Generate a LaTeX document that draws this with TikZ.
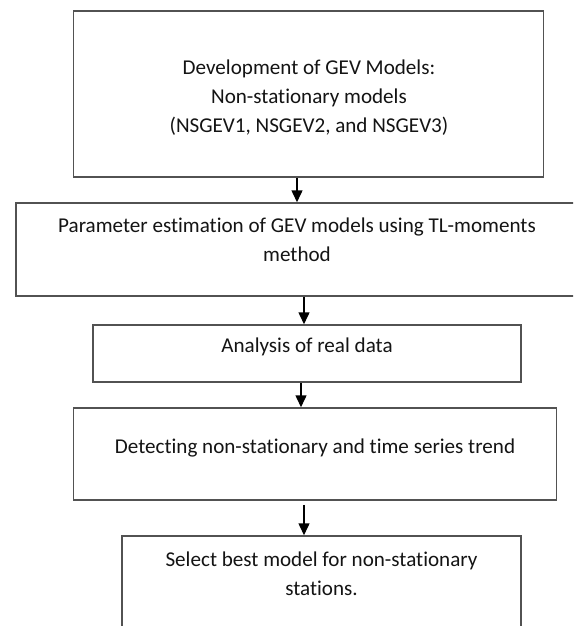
\documentclass[tikz,border=0pt]{standalone}
\usepackage{fontspec}
\setmainfont{Carlito}[Ligatures=NoCommon]
\usetikzlibrary{arrows.meta}
\begin{document}
\begin{tikzpicture}[x=1pt,y=-1pt,
  boxstyle/.style={draw=black!68, line width=1.5pt, rectangle, inner sep=0pt},
  boxtext/.style={text=black!92, align=center, inner sep=0pt, font=\fontsize{21.1}{29}\selectfont},
  arr/.style={black, line width=1.5pt, -{Triangle[width=11pt,length=12pt]}}]
\clip (0,0) rectangle (573,626);
\fill[white] (0,0) rectangle (573,626);
% boxes
\node[boxstyle, minimum width=470pt, minimum height=166pt] (b1) at (308.5,94) {};
\node[boxstyle, minimum width=562pt, minimum height=93pt] (b2) at (297,249.5) {};
\node[boxstyle, minimum width=428pt, minimum height=57pt] (b3) at (307,353.5) {};
\node[boxstyle, minimum width=483pt, minimum height=92pt] (b4) at (315,454) {};
\node[boxstyle, minimum width=399pt, minimum height=104pt] (b5) at (321.5,588) {};
% texts
\node[boxtext] (t1) at (309,98) {Development of GEV Models:\\Non-stationary models\\(NSGEV1, NSGEV2, and NSGEV3)};
\node[boxtext] (t2) at (297,240) {Parameter estimation of GEV models using TL-moments\\method};
\node[boxtext] (t3) at (307,347) {Analysis of real data};
\node[boxtext] (t4) at (315,448) {Detecting non-stationary and time series trend};
\node[boxtext] (t5) at (321.5,574) {Select best model for non-stationary\\stations.};
% arrow columns
\coordinate (ax1) at (297,0);
\coordinate (ax2) at (304,0);
\coordinate (ax3) at (301,0);
\coordinate (ax4) at (304,0);
\draw[arr] (b1.south -| ax1) -- (b2.north -| ax1);
\draw[arr] (b2.south -| ax2) -- (b3.north -| ax2);
\draw[arr] (b3.south -| ax3) -- (b4.north -| ax3);
\draw[arr, shorten <=4pt] (b4.south -| ax4) -- (b5.north -| ax4);
\end{tikzpicture}
\end{document}
